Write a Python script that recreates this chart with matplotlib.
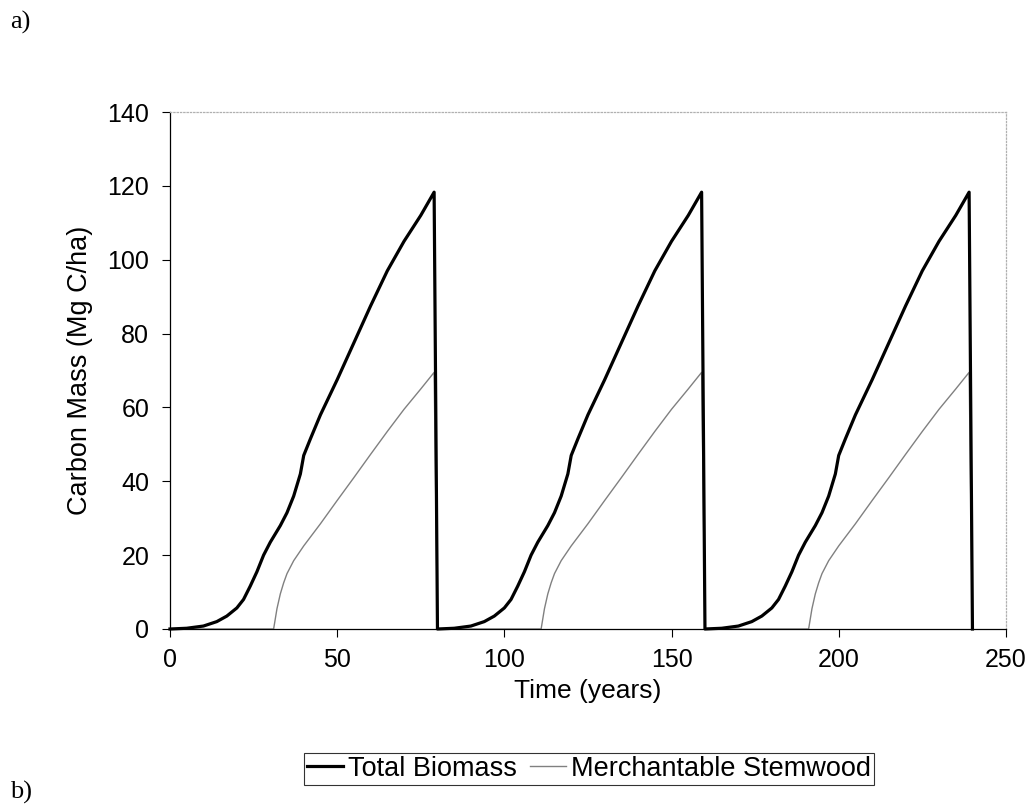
import numpy as np
import matplotlib.pyplot as plt

# Carbon stock over three 80-year rotations: total biomass and merchantable stemwood.

rotation_length = 80
n_rotations = 3

# ages (years since planting) and carbon mass (Mg C/ha) within one rotation
total_age = [0, 5, 10, 14, 17, 20, 22, 24, 26, 28, 30, 33, 35, 37, 39, 40,
             42, 45, 50, 55, 60, 65, 70, 75, 79]
total_carbon = [0, 0.2, 0.8, 2.0, 3.5, 5.7, 8.0, 11.6, 15.5, 20.0, 23.5, 28.0,
                31.5, 36.0, 42.0, 47.0, 51.5, 58.0, 67.5, 77.5, 87.5, 97.0,
                105.0, 112.0, 118.3]

merch_age = [0, 31, 32, 33, 34, 35, 37, 40, 45, 50, 55, 60, 65, 70, 75, 79]
merch_carbon = [0, 0, 5.5, 9.5, 12.5, 15.0, 18.5, 22.5, 28.5, 34.8, 41.0,
                47.3, 53.5, 59.5, 65.0, 69.5]

end_year = 240


def rotations(ages, values):
    years, mass = [], []
    for k in range(n_rotations):
        years += [a + k * rotation_length for a in ages]
        mass += list(values)
    years.append(end_year)
    mass.append(0)
    return np.array(years), np.array(mass)


t_years, t_mass = rotations(total_age, total_carbon)
m_years, m_mass = rotations(merch_age, merch_carbon)

plt.rcParams["font.family"] = ["Liberation Sans", "DejaVu Sans"]

fig = plt.figure(figsize=(10.32, 8.09), dpi=100)
ax = fig.add_axes([0.1647, 0.2225, 0.810, 0.639])

ax.plot(t_years, t_mass, color="black", lw=2.3, label="Total Biomass",
        clip_on=False, zorder=3)
ax.plot(m_years, m_mass, color="#808080", lw=1.0, label="Merchantable Stemwood",
        clip_on=False, zorder=2)

ax.set_xlim(0, 250)
ax.set_ylim(0, 140)
ax.set_xticks(np.arange(0, 251, 50))
ax.set_yticks(np.arange(0, 141, 20))
ax.tick_params(axis="both", labelsize=18, direction="out", length=6, width=0.8)
ax.tick_params(axis="y", pad=9)
ax.tick_params(axis="x", pad=8)

for side in ["left", "bottom"]:
    ax.spines[side].set_color("black")
    ax.spines[side].set_linewidth(0.9)
for side in ["top", "right"]:
    ax.spines[side].set_color("#b0b0b0")
    ax.spines[side].set_linestyle(":")
    ax.spines[side].set_linewidth(0.9)

ax.set_xlabel("Time (years)", fontsize=19)
ax.set_ylabel("Carbon Mass (Mg C/ha)", fontsize=19.5)
ax.xaxis.set_label_coords(0.5, -0.097)
ax.yaxis.set_label_coords(-0.092, 0.5)

leg = fig.legend(loc="center", bbox_to_anchor=(0.571, 0.0495), ncol=2,
                 fontsize=19.5, frameon=True, fancybox=False, handlelength=1.3,
                 handletextpad=0.2, columnspacing=0.5, borderpad=0.12,
                 borderaxespad=0)
leg.get_frame().set_edgecolor("black")
leg.get_frame().set_linewidth(0.8)

fig.text(0.010, 0.972, "a)", fontsize=19, family="Liberation Serif",
         va="center", ha="left")
fig.text(0.010, 0.020, "b)", fontsize=19, family="Liberation Serif",
         va="center", ha="left")

fig.savefig("out.png", dpi=100)
